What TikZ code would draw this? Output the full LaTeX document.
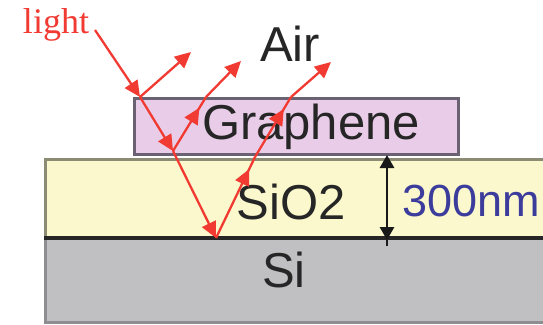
\documentclass[tikz,border=0pt]{standalone}
\usepackage{fontspec}
\setmainfont{Liberation Serif}
\setsansfont{Liberation Sans}
\usetikzlibrary{arrows.meta,decorations.markings}
\definecolor{rayred}{HTML}{F03A32}
\definecolor{grfill}{HTML}{E9CDE8}
\definecolor{grline}{HTML}{6A6272}
\definecolor{oxfill}{HTML}{FAF8CC}
\definecolor{oxline}{HTML}{8C8C74}
\definecolor{sifill}{HTML}{C0C0C2}
\definecolor{siline}{HTML}{8E8E92}
\definecolor{dimblue}{HTML}{3C3C9C}
\tikzset{
  rayhead/.tip={Triangle[length=16pt,width=15pt]},
  ray/.style={draw=rayred, line width=2.3pt, -rayhead},
  rayline/.style={draw=rayred, line width=2.3pt},
  midhead/.style={postaction={decorate}, decoration={markings,
      mark=at position #1 with {\arrow[rayred]{rayhead}}}},
  layerlabel/.style={font=\sffamily\fontsize{49}{49}\selectfont, text=black!85, inner sep=0pt},
}
\begin{document}
\begin{tikzpicture}[x=1pt,y=-1pt]
\useasboundingbox (0,0) rectangle (543,324);
% layers
\fill[sifill] (44,238) rectangle (543,322);
\draw[siline, line width=3pt] (45,238) -- (45,322) -- (543,322);
\fill[oxfill] (44,158) rectangle (543,238);
\draw[oxline, line width=3pt] (543,159) -- (45,159) -- (45,237);
\draw[black!85, line width=4.5pt] (44,238) -- (543,238);
\draw[grline, line width=3pt, fill=grfill] (134,98) rectangle (458,154);
% texts
\node[layerlabel] (air) at (290,44) {Air};
\node[layerlabel] (gr) at (311,127) {Graphene};
\node[layerlabel] (sio) at (291,202) {SiO2};
\node[layerlabel] (si) at (284,270) {Si};
\node[font=\sffamily\fontsize{45}{45}\selectfont, text=dimblue, inner sep=0pt] (nm) at (471,201) {300nm};
\node[font=\fontsize{36}{36}\selectfont, text=rayred, inner sep=0pt] (light) at (56,25) {light};
% dimension arrow
\coordinate (dt) at (387,155);
\coordinate (db) at (387,240);
\coordinate (de) at (387,246);
\draw[black!90, line width=2.8pt, {Triangle[length=13pt,width=14pt]}-{Triangle[length=13pt,width=14pt]}] (dt) -- (db);
\draw[black!90, line width=2.8pt] (db) -- (de);
% ray points
\coordinate (L) at (95,30);
\coordinate (A) at (140,97);
\coordinate (R1) at (191,52);
\coordinate (B) at (173,151);
\coordinate (C) at (216,238);
\coordinate (D) at (206,97);
\coordinate (E) at (241,61);
\coordinate (F) at (255,157);
\coordinate (H) at (291,97);
\coordinate (G) at (331,62);
% rays
\draw[ray] (L) -- (A);
\draw[ray] (A) -- (R1);
\draw[ray] (A) -- (B);
\draw[ray] (B) -- (C);
\draw[rayline, midhead=0.8] (B) -- (D);
\draw[ray] (D) -- (E);
\draw[rayline, midhead=0.85] (C) -- (F);
\draw[rayline, midhead=0.8] (F) -- (H);
\draw[ray] (H) -- (G);
\end{tikzpicture}
\end{document}
